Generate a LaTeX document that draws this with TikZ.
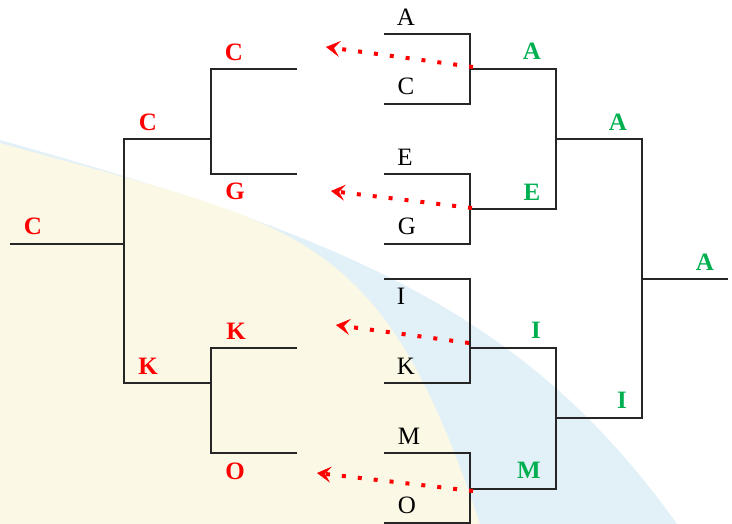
\documentclass[tikz,border=0pt]{standalone}
\usepackage{fontspec}
\setmainfont{Liberation Serif}
\usetikzlibrary{arrows.meta}
\definecolor{bgyellow}{RGB}{251,248,229}
\definecolor{bgblue}{RGB}{226,240,248}
\definecolor{wingreen}{RGB}{0,176,80}
\tikzset{
  bracket/.style={black!85, line width=1.3pt},
  leaf/.style={font=\fontsize{25}{30}\selectfont, inner sep=0pt},
  winner/.style={font=\fontsize{25}{30}\selectfont\bfseries, text=wingreen, inner sep=0pt},
  splitter/.style={font=\fontsize{25}{30}\selectfont\bfseries, text=red, inner sep=0pt},
  backarrow/.style={red, line width=4pt, dash pattern=on 4pt off 12pt,
    -{Stealth[length=14pt, width=16pt, inset=6pt, line width=0.5pt]}}
}

\begin{document}
\begin{tikzpicture}[x=1pt, y=-1pt]
                \useasboundingbox (0,0) rectangle (732,524);
                % background bands
                \fill[bgblue] (0,140) .. controls (350,238) and (527,314) .. (677,524) -- (0,524) -- cycle;
                \fill[bgyellow] (0,143) .. controls (300,227) and (380,224) .. (480,524) -- (0,524) -- cycle;
                % right tree: merging
                \foreach \name/\y in {A/34, C/104, E/174, G/244, I/279, K/383, M/453, O/523} {
                    \coordinate (in\name) at (384,\y);
                    \coordinate (up\name) at (470,\y);
                }
                \coordinate (mAC) at (470,69);
                \coordinate (mEG) at (470,209);
                \coordinate (mIK) at (470,348);
                \coordinate (mMO) at (470,489);
                \coordinate (sAE) at (556,139);
                \coordinate (sIM) at (556,418);
                \coordinate (fin) at (642,279);
                \coordinate (champ) at (728,279);
                \draw[bracket] (inA) -- (upA) -- (upC) -- (inC);
                \draw[bracket] (inE) -- (upE) -- (upG) -- (inG);
                \draw[bracket] (inI) -- (upI) -- (upK) -- (inK);
                \draw[bracket] (inM) -- (upM) -- (upO) -- (inO);
                \draw[bracket] (mAC) -| (sAE) |- (mEG);
                \draw[bracket] (mIK) -| (sIM) |- (mMO);
                \draw[bracket] (sAE) -| (fin) |- (sIM);
                \draw[bracket] (fin) -- (champ);
                % left tree: splitting
                \coordinate (lroot) at (10,244);
                \coordinate (lsplit) at (124,244);
                \coordinate (qC) at (211,139);
                \coordinate (qK) at (211,383);
                \coordinate (outC) at (297,69);
                \coordinate (outG) at (297,174);
                \coordinate (outK) at (297,348);
                \coordinate (outO) at (297,453);
                \draw[bracket] (lroot) -- (lsplit);
                \draw[bracket] (qC) -| (lsplit) |- (qK);
                \draw[bracket] (outC) -| (qC) |- (outG);
                \draw[bracket] (outK) -| (qK) |- (outO);
                % labels
                \foreach \name/\x/\y in {A/406/17, C/406/86, E/405/157, G/407/226, I/401/296, K/406/366, M/409/436, O/407/505}
                    \node[leaf] (leaf\name) at (\x,\y) {\name};
                \foreach \name/\x/\y/\lvl in {A/532/51/1, E/532/192/1, I/536/330/1, M/529/470/1, A/618/122/2, I/622/400/2, A/705/262/3}
                    \node[winner] (win\name\lvl) at (\x,\y) {\name};
                \foreach \name/\x/\y/\lvl in {C/234/52/2, G/235/191/2, K/236/331/2, O/235/471/2, C/148/122/1, K/148/366/1, C/33/226/0}
                    \node[splitter] (cut\name\lvl) at (\x,\y) {\name};
                % dotted arrows back to the left
                \coordinate (tipAC) at (326,47);
                \coordinate (tipEG) at (331,191);
                \coordinate (tipIK) at (336,325);
                \coordinate (tipMO) at (317,473);
                \coordinate (fromAC) at (473,67);
                \coordinate (fromEG) at (472,208);
                \coordinate (fromIK) at (469,343);
                \coordinate (fromMO) at (473,491);
                \draw[backarrow] (fromAC) -- (tipAC);
                \draw[backarrow] (fromEG) -- (tipEG);
                \draw[backarrow] (fromIK) -- (tipIK);
                \draw[backarrow] (fromMO) -- (tipMO);
            \end{tikzpicture}
\end{document}
